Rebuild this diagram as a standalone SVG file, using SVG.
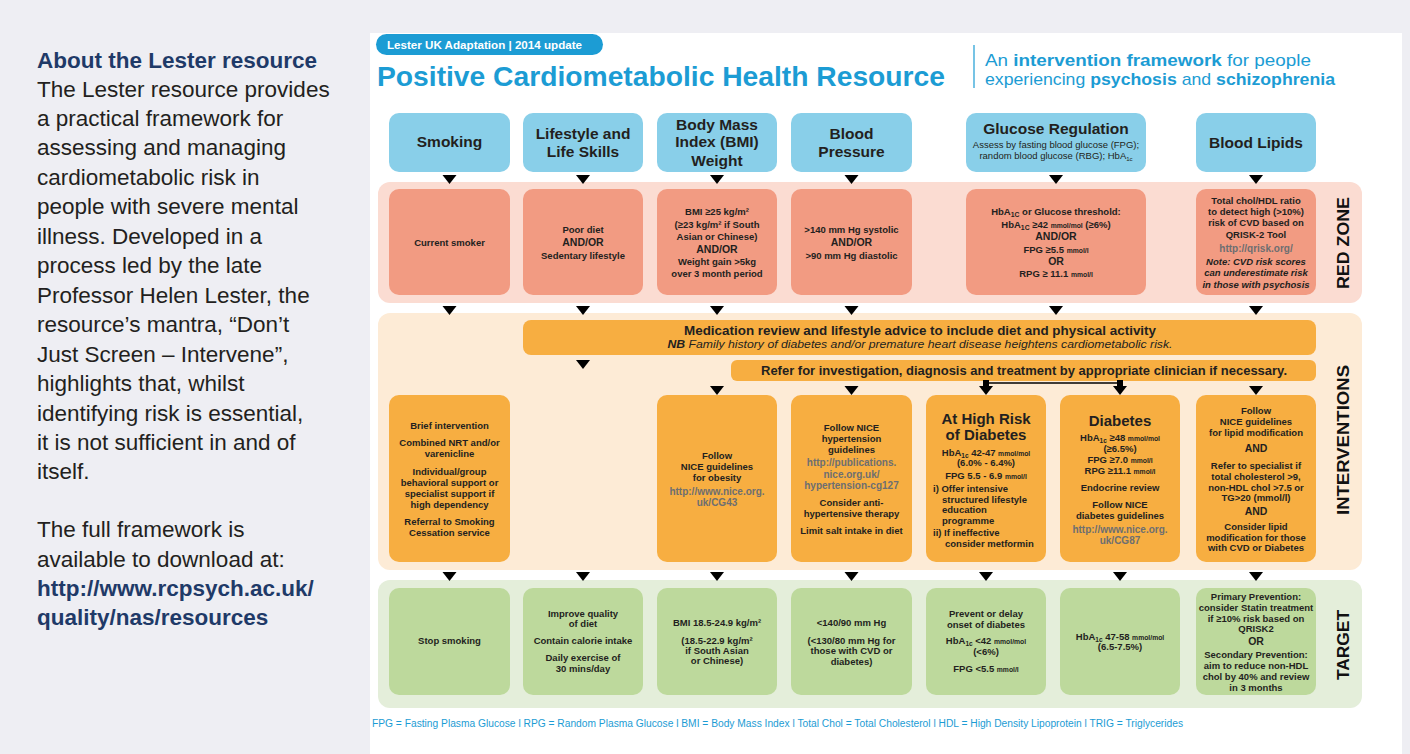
<svg xmlns="http://www.w3.org/2000/svg" width="1410" height="754" viewBox="0 0 1410 754">
<style>
text{font-family:"Liberation Sans",Arial,sans-serif}
.t{font-weight:bold;font-size:9.5px;fill:#231F20;text-anchor:middle}
.l{text-anchor:start}
.u{font-size:6.8px}
.s{font-size:6.5px}
.ao{font-size:10.5px}
.lk{fill:#6D6E71;font-size:10px}
.h{font-size:15px}
.hb{font-size:15.5px}
.it{font-style:italic}
.blue{fill:#89CFE9}
.redb{fill:#F29B82}
.org{fill:#F7AE41}
.grn{fill:#BDD99C}
.side{font-family:"Liberation Sans",Arial,sans-serif;font-size:22.5px;fill:#231F20}
.vl{font-weight:bold;font-size:17px;fill:#111;text-anchor:middle}
</style>
<defs>
<path id="tri" d="M-7,0 L7,0 L0,9 Z" fill="#000"/>
</defs>
<rect x="0" y="0" width="1410" height="754" fill="#EEEEF3"/>
<rect x="370" y="33" width="1032" height="721" fill="#FFFFFF"/>

<g id="about">
<text class="side" x="37" y="68" font-weight="bold" fill="#1F3A68" style="fill:#1F3A68">About the Lester resource</text>
<text class="side" x="37" y="97">The Lester resource provides</text>
<text class="side" x="37" y="126">a practical framework for</text>
<text class="side" x="37" y="155">assessing and managing</text>
<text class="side" x="37" y="185">cardiometabolic risk in</text>
<text class="side" x="37" y="214">people with severe mental</text>
<text class="side" x="37" y="244">illness. Developed in a</text>
<text class="side" x="37" y="273">process led by the late</text>
<text class="side" x="37" y="303">Professor Helen Lester, the</text>
<text class="side" x="37" y="332">resource’s mantra, “Don’t</text>
<text class="side" x="37" y="362">Just Screen – Intervene”,</text>
<text class="side" x="37" y="391">highlights that, whilst</text>
<text class="side" x="37" y="421">identifying risk is essential,</text>
<text class="side" x="37" y="450">it is not sufficient in and of</text>
<text class="side" x="37" y="479">itself.</text>
<text class="side" x="37" y="537">The full framework is</text>
<text class="side" x="37" y="567">available to download at:</text>
<text class="side" x="37" y="596" font-weight="bold" style="fill:#1F3A68">http://www.rcpsych.ac.uk/</text>
<text class="side" x="37" y="625" font-weight="bold" style="fill:#1F3A68">quality/nas/resources</text>
</g>

<g id="header">
<rect x="376" y="34" width="227" height="21" rx="10.5" fill="#1C9CD4"/>
<text x="387" y="48.5" font-size="10.5" font-weight="bold" fill="#fff" textLength="195" lengthAdjust="spacingAndGlyphs">Lester UK Adaptation | 2014 update</text>
<text x="377" y="86" font-size="28" font-weight="bold" fill="#1C9CD4" textLength="568" lengthAdjust="spacingAndGlyphs">Positive Cardiometabolic Health Resource</text>
<line x1="974" y1="45" x2="974" y2="88" stroke="#1C9CD4" stroke-width="1.2"/>
<text x="985" y="66" font-size="17" fill="#1C9CD4" textLength="326" lengthAdjust="spacingAndGlyphs">An <tspan font-weight="bold">intervention framework</tspan> for people</text>
<text x="985" y="85" font-size="17" fill="#1C9CD4" textLength="350" lengthAdjust="spacingAndGlyphs">experiencing <tspan font-weight="bold">psychosis</tspan> and <tspan font-weight="bold">schizophrenia</tspan></text>
</g>

<g id="bands">
<rect x="378" y="182" width="984" height="121" rx="12" fill="#FBDCD2"/>
<rect x="378" y="313" width="984" height="257" rx="12" fill="#FDEBD6"/>
<rect x="378" y="580" width="984" height="128" rx="12" fill="#E4EEDA"/>
<text class="vl" transform="translate(1349,243) rotate(-90)" textLength="92" lengthAdjust="spacingAndGlyphs">RED ZONE</text>
<text class="vl" transform="translate(1349,440) rotate(-90)" textLength="150" lengthAdjust="spacingAndGlyphs">INTERVENTIONS</text>
<text class="vl" transform="translate(1349,645) rotate(-90)" textLength="70" lengthAdjust="spacingAndGlyphs">TARGET</text>
</g>

<g id="node-smoking">
<rect class="blue" x="389" y="113" width="121" height="59" rx="10"/>
<text class="t hb" x="449.5" y="146.5">Smoking</text>
</g>
<g id="node-lifestyle">
<rect class="blue" x="523" y="113" width="120" height="59" rx="10"/>
<text class="t hb" x="583" y="139">Lifestyle and</text>
<text class="t hb" x="583" y="156.5">Life Skills</text>
</g>
<g id="node-bmi">
<rect class="blue" x="657" y="113" width="120" height="59" rx="10"/>
<text class="t hb" x="717" y="129.5">Body Mass</text>
<text class="t hb" x="717" y="147">Index (BMI)</text>
<text class="t hb" x="717" y="165.5">Weight</text>
</g>
<g id="node-bp">
<rect class="blue" x="791" y="113" width="121" height="59" rx="10"/>
<text class="t hb" x="851.5" y="139">Blood</text>
<text class="t hb" x="851.5" y="156.5">Pressure</text>
</g>
<g id="node-glucose">
<rect class="blue" x="966" y="113" width="180" height="59" rx="10"/>
<text class="t hb" x="1056" y="133.5">Glucose Regulation</text>
<text class="t" x="1056" y="148" font-weight="normal" font-size="8.3" style="font-weight:normal">Assess by fasting blood glucose (FPG);</text>
<text class="t" x="1056" y="159" font-size="8.3" style="font-weight:normal">random blood glucose (RBG); HbA<tspan font-size="6" dy="2">1c</tspan></text>
</g>
<g id="node-lipids">
<rect class="blue" x="1196" y="113" width="120" height="59" rx="10"/>
<text class="t hb" x="1256" y="147.5">Blood Lipids</text>
</g>

<g id="red-smoking">
<rect class="redb" x="389" y="189" width="121" height="106" rx="10"/>
<text class="t" x="449.5" y="245.5">Current smoker</text>
</g>
<g id="red-lifestyle">
<rect class="redb" x="523" y="189" width="120" height="106" rx="10"/>
<text class="t" x="583" y="232.5">Poor diet</text>
<text class="t ao" x="583" y="246">AND/OR</text>
<text class="t" x="583" y="258.5">Sedentary lifestyle</text>
</g>
<g id="red-bmi">
<rect class="redb" x="657" y="189" width="120" height="106" rx="10"/>
<text class="t" x="717" y="214.5">BMI ≥25 kg/m²</text>
<text class="t" x="717" y="227.5">(≥23 kg/m² if South</text>
<text class="t" x="717" y="239.5">Asian or Chinese)</text>
<text class="t ao" x="717" y="253">AND/OR</text>
<text class="t" x="717" y="264.5">Weight gain &gt;5kg</text>
<text class="t" x="717" y="276.5">over 3 month period</text>
</g>
<g id="red-bp">
<rect class="redb" x="791" y="189" width="121" height="106" rx="10"/>
<text class="t" x="851.5" y="232.5">&gt;140 mm Hg systolic</text>
<text class="t ao" x="851.5" y="246">AND/OR</text>
<text class="t" x="851.5" y="258.5">&gt;90 mm Hg diastolic</text>
</g>
<g id="red-glucose">
<rect class="redb" x="966" y="189" width="180" height="106" rx="10"/>
<text class="t" x="1056" y="214.5">HbA<tspan class="u" dy="2">1C</tspan><tspan dy="-2"> or Glucose threshold:</tspan></text>
<text class="t" x="1056" y="227.5">HbA<tspan class="u" dy="2">1C</tspan><tspan dy="-2"> ≥42 </tspan><tspan class="u">mmol/mol</tspan> (≥6%)</text>
<text class="t ao" x="1056" y="240">AND/OR</text>
<text class="t" x="1056" y="252.5">FPG ≥5.5 <tspan class="u">mmol/l</tspan></text>
<text class="t ao" x="1056" y="265">OR</text>
<text class="t" x="1056" y="276.5">RPG ≥ 11.1 <tspan class="u">mmol/l</tspan></text>
</g>
<g id="red-lipids">
<rect class="redb" x="1196" y="189" width="120" height="106" rx="10"/>
<text class="t" x="1256" y="203.5">Total chol/HDL ratio</text>
<text class="t" x="1256" y="214.5">to detect high (&gt;10%)</text>
<text class="t" x="1256" y="226">risk of CVD based on</text>
<text class="t" x="1256" y="237.5">QRISK-2 Tool</text>
<text class="t lk" x="1256" y="251.5">http://qrisk.org/</text>
<text class="t it" x="1256" y="264.5">Note: CVD risk scores</text>
<text class="t it" x="1256" y="276">can underestimate risk</text>
<text class="t it" x="1256" y="287.5">in those with psychosis</text>
</g>

<g id="bar-medication">
<rect class="org" x="523" y="320" width="793" height="35" rx="8"/>
<text class="t" x="920" y="334.5" font-size="13" style="font-size:13px" textLength="472" lengthAdjust="spacingAndGlyphs">Medication review and lifestyle advice to include diet and physical activity</text>
<text class="t it" x="920" y="348" style="font-weight:normal;font-size:10px" textLength="505" lengthAdjust="spacingAndGlyphs"><tspan font-weight="bold">NB</tspan> Family history of diabetes and/or premature heart disease heightens cardiometabolic risk.</text>
</g>
<g id="bar-refer">
<rect class="org" x="731" y="360" width="585" height="21" rx="6"/>
<text class="t" x="1024" y="375" style="font-size:13px" textLength="526" lengthAdjust="spacingAndGlyphs">Refer for investigation, diagnosis and treatment by appropriate clinician if necessary.</text>
</g>

<g id="int-smoking">
<rect class="org" x="389" y="395" width="121" height="167" rx="10"/>
<text class="t" x="449.5" y="428.5">Brief intervention</text>
<text class="t" x="449.5" y="445.5">Combined NRT and/or</text>
<text class="t" x="449.5" y="456.5">varenicline</text>
<text class="t" x="449.5" y="474.5">Individual/group</text>
<text class="t" x="449.5" y="485.5">behavioral support or</text>
<text class="t" x="449.5" y="496.5">specialist support if</text>
<text class="t" x="449.5" y="507.5">high dependency</text>
<text class="t" x="449.5" y="524.5">Referral to Smoking</text>
<text class="t" x="449.5" y="535.5">Cessation service</text>
</g>
<g id="int-bmi">
<rect class="org" x="657" y="395" width="120" height="167" rx="10"/>
<text class="t" x="717" y="458.5">Follow</text>
<text class="t" x="717" y="469.5">NICE guidelines</text>
<text class="t" x="717" y="480.5">for obesity</text>
<text class="t lk" x="717" y="494.5">http://www.nice.org.</text>
<text class="t lk" x="717" y="505.5">uk/CG43</text>
</g>
<g id="int-bp">
<rect class="org" x="791" y="395" width="121" height="167" rx="10"/>
<text class="t" x="851.5" y="430.5">Follow NICE</text>
<text class="t" x="851.5" y="441.5">hypertension</text>
<text class="t" x="851.5" y="452.5">guidelines</text>
<text class="t lk" x="851.5" y="465.5">http://publications.</text>
<text class="t lk" x="851.5" y="477.5">nice.org.uk/</text>
<text class="t lk" x="851.5" y="488.5">hypertension-cg127</text>
<text class="t" x="851.5" y="505.5">Consider anti-</text>
<text class="t" x="851.5" y="516.5">hypertensive therapy</text>
<text class="t" x="851.5" y="533.5">Limit salt intake in diet</text>
</g>
<g id="int-highrisk">
<rect class="org" x="926" y="395" width="120" height="167" rx="10"/>
<text class="t h" x="986" y="423.5">At High Risk</text>
<text class="t h" x="986" y="439.5">of Diabetes</text>
<text class="t" x="986" y="455.5">HbA<tspan class="s" dy="2">1c</tspan><tspan dy="-2"> 42-47 </tspan><tspan class="u">mmol/mol</tspan></text>
<text class="t" x="986" y="465.5">(6.0% - 6.4%)</text>
<text class="t" x="986" y="478.5">FPG 5.5 - 6.9 <tspan class="u">mmol/l</tspan></text>
<text class="t l" x="933" y="491.5">i) Offer intensive</text>
<text class="t l" x="942" y="502.5">structured lifestyle</text>
<text class="t l" x="942" y="512.5">education</text>
<text class="t l" x="942" y="523.5">programme</text>
<text class="t l" x="933" y="535.5">ii) If ineffective</text>
<text class="t l" x="945" y="546.5">consider metformin</text>
</g>
<g id="int-diabetes">
<rect class="org" x="1060" y="395" width="120" height="167" rx="10"/>
<text class="t h" x="1120" y="425.5">Diabetes</text>
<text class="t" x="1120" y="440.5">HbA<tspan class="s" dy="2">1c</tspan><tspan dy="-2"> ≥48 </tspan><tspan class="u">mmol/mol</tspan></text>
<text class="t" x="1120" y="451.5">(≥6.5%)</text>
<text class="t" x="1120" y="462.5">FPG ≥7.0 <tspan class="u">mmol/l</tspan></text>
<text class="t" x="1120" y="473.5">RPG ≥11.1 <tspan class="u">mmol/l</tspan></text>
<text class="t" x="1120" y="490.5">Endocrine review</text>
<text class="t" x="1120" y="507.5">Follow NICE</text>
<text class="t" x="1120" y="518.5">diabetes guidelines</text>
<text class="t lk" x="1120" y="532.5">http://www.nice.org.</text>
<text class="t lk" x="1120" y="543.5">uk/CG87</text>
</g>
<g id="int-lipids">
<rect class="org" x="1196" y="395" width="120" height="167" rx="10"/>
<text class="t" x="1256" y="413.5">Follow</text>
<text class="t" x="1256" y="424.5">NICE guidelines</text>
<text class="t" x="1256" y="435.5">for lipid modification</text>
<text class="t ao" x="1256" y="452">AND</text>
<text class="t" x="1256" y="468.5">Refer to specialist if</text>
<text class="t" x="1256" y="479.5">total cholesterol &gt;9,</text>
<text class="t" x="1256" y="490.5">non-HDL chol &gt;7.5 or</text>
<text class="t" x="1256" y="500.5">TG&gt;20 (mmol/l)</text>
<text class="t ao" x="1256" y="515">AND</text>
<text class="t" x="1256" y="529.5">Consider lipid</text>
<text class="t" x="1256" y="540.5">modification for those</text>
<text class="t" x="1256" y="550.5">with CVD or Diabetes</text>
</g>

<g id="tgt-smoking">
<rect class="grn" x="389" y="588" width="121" height="107" rx="10"/>
<text class="t" x="449.5" y="643.5">Stop smoking</text>
</g>
<g id="tgt-lifestyle">
<rect class="grn" x="523" y="588" width="120" height="107" rx="10"/>
<text class="t" x="583" y="616.5">Improve quality</text>
<text class="t" x="583" y="626.5">of diet</text>
<text class="t" x="583" y="643.5">Contain calorie intake</text>
<text class="t" x="583" y="660.5">Daily exercise of</text>
<text class="t" x="583" y="671.5">30 mins/day</text>
</g>
<g id="tgt-bmi">
<rect class="grn" x="657" y="588" width="120" height="107" rx="10"/>
<text class="t" x="717" y="625.5">BMI 18.5-24.9 kg/m²</text>
<text class="t" x="717" y="643.5">(18.5-22.9 kg/m²</text>
<text class="t" x="717" y="653.5">if South Asian</text>
<text class="t" x="717" y="663.5">or Chinese)</text>
</g>
<g id="tgt-bp">
<rect class="grn" x="791" y="588" width="121" height="107" rx="10"/>
<text class="t" x="851.5" y="625.5">&lt;140/90 mm Hg</text>
<text class="t" x="851.5" y="643.5">(&lt;130/80 mm Hg for</text>
<text class="t" x="851.5" y="653.5">those with CVD or</text>
<text class="t" x="851.5" y="664.5">diabetes)</text>
</g>
<g id="tgt-prevent">
<rect class="grn" x="926" y="588" width="120" height="107" rx="10"/>
<text class="t" x="986" y="616.5">Prevent or delay</text>
<text class="t" x="986" y="627.5">onset of diabetes</text>
<text class="t" x="986" y="643.5">HbA<tspan class="s" dy="2">1c</tspan><tspan dy="-2"> &lt;42 </tspan><tspan class="u">mmol/mol</tspan></text>
<text class="t" x="986" y="654.5">(&lt;6%)</text>
<text class="t" x="986" y="671.5">FPG &lt;5.5 <tspan class="u">mmol/l</tspan></text>
</g>
<g id="tgt-diabetes">
<rect class="grn" x="1060" y="588" width="120" height="107" rx="10"/>
<text class="t" x="1120" y="639.5">HbA<tspan class="s" dy="2">1c</tspan><tspan dy="-2"> 47-58 </tspan><tspan class="u">mmol/mol</tspan></text>
<text class="t" x="1120" y="649.5">(6.5-7.5%)</text>
</g>
<g id="tgt-lipids">
<rect class="grn" x="1196" y="588" width="120" height="107" rx="10"/>
<text class="t" x="1256" y="599.5">Primary Prevention:</text>
<text class="t" x="1256" y="610.5">consider Statin treatment</text>
<text class="t" x="1256" y="621.5">if ≥10% risk based on</text>
<text class="t" x="1256" y="631.5">QRISK2</text>
<text class="t ao" x="1256" y="645">OR</text>
<text class="t" x="1256" y="657.5">Secondary Prevention:</text>
<text class="t" x="1256" y="668.5">aim to reduce non-HDL</text>
<text class="t" x="1256" y="679.5">chol by 40% and review</text>
<text class="t" x="1256" y="690.5">in 3 months</text>
</g>

<g id="connectors">
<use href="#tri" x="449.5" y="175"/>
<use href="#tri" x="583" y="175"/>
<use href="#tri" x="717" y="175"/>
<use href="#tri" x="851.5" y="175"/>
<use href="#tri" x="1056" y="175"/>
<use href="#tri" x="1256" y="175"/>
<use href="#tri" x="449.5" y="306"/>
<use href="#tri" x="583" y="306"/>
<use href="#tri" x="717" y="306"/>
<use href="#tri" x="851.5" y="306"/>
<use href="#tri" x="1056" y="306"/>
<use href="#tri" x="1256" y="306"/>
<use href="#tri" x="583" y="360"/>
<line x1="986" y1="383" x2="1120" y2="383" stroke="#000" stroke-width="1.5"/>
<rect x="983" y="380" width="6" height="6" fill="#000"/>
<rect x="1117" y="380" width="6" height="6" fill="#000"/>
<use href="#tri" x="717" y="386"/>
<use href="#tri" x="851.5" y="386"/>
<use href="#tri" x="986" y="386"/>
<use href="#tri" x="1120" y="386"/>
<use href="#tri" x="1256" y="386"/>
<use href="#tri" x="449.5" y="572"/>
<use href="#tri" x="583" y="572"/>
<use href="#tri" x="717" y="572"/>
<use href="#tri" x="851.5" y="572"/>
<use href="#tri" x="986" y="572"/>
<use href="#tri" x="1120" y="572"/>
<use href="#tri" x="1256" y="572"/>
</g>

<g id="footer">
<text x="372" y="727" font-size="10" fill="#1C9CD4" textLength="811" lengthAdjust="spacingAndGlyphs">FPG = Fasting Plasma Glucose l RPG = Random Plasma Glucose l BMI = Body Mass Index l Total Chol = Total Cholesterol l HDL = High Density Lipoprotein l TRIG = Triglycerides</text>
</g>
</svg>
